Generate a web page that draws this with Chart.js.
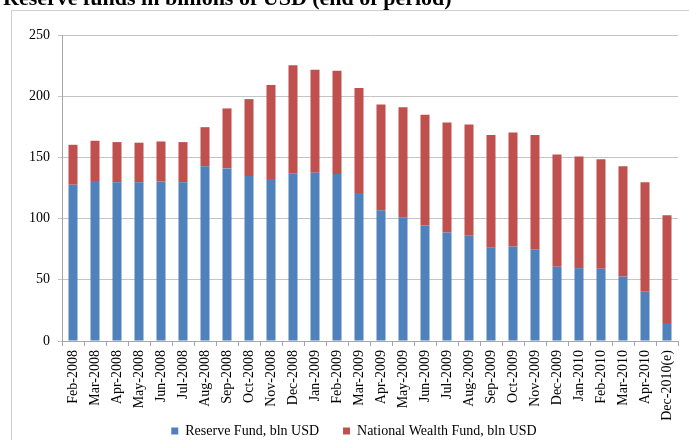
<!DOCTYPE html>
<html>
<head>
<meta charset="utf-8">
<script src="https://cdn.jsdelivr.net/npm/chart.js@4/dist/chart.umd.min.js"></script>
<style>
html,body{margin:0;padding:0;background:#fff;overflow:hidden;}
#wrap{position:relative;width:689px;height:440px;overflow:hidden;}
#frame{position:absolute;left:11px;top:10px;width:720px;height:460px;border:1px solid #cfcfcf;box-sizing:border-box;}
#title{position:absolute;left:3px;top:-13px;font:bold 22px "Liberation Serif",serif;line-height:22px;white-space:nowrap;color:#000;}
canvas{position:absolute;left:0;top:0;}
</style>
</head>
<body>
<div id="wrap">
<div id="frame"></div>
<canvas id="c" width="689" height="440"></canvas>
<div id="title">Reserve funds in billions of USD (end of period)</div>
</div>
<script>
const categories = ["Feb-2008","Mar-2008","Apr-2008","May-2008","Jun-2008","Jul-2008","Aug-2008","Sep-2008","Oct-2008","Nov-2008","Dec-2008","Jan-2009","Feb-2009","Mar-2009","Apr-2009","May-2009","Jun-2009","Jul-2009","Aug-2009","Sep-2009","Oct-2009","Nov-2009","Dec-2009","Jan-2010","Feb-2010","Mar-2010","Apr-2010","Dec-2010(e)"];
const reserveFund = [127.7,130.7,129.6,129.6,130.2,129.6,142.7,141.0,134.8,132.3,137.0,137.5,136.4,120.9,106.8,101.1,94.3,88.6,85.9,76.1,77.2,75.0,60.6,59.5,59.0,52.7,40.2,14.7];
const nationalWealthFund = [32.6,32.9,32.9,32.4,32.8,32.9,32.0,49.0,62.8,76.9,88.3,84.2,84.3,85.9,86.4,89.9,90.5,89.9,91.0,92.1,93.2,93.2,91.8,91.3,89.4,90.0,89.4,88.0];
const yTicks = [0,50,100,150,200,250];

const serif = '"Liberation Serif", "Times New Roman", serif';

const extendLabelAreas = {
  id: 'extendLabelAreas',
  afterLayout(chart) {
    const s = chart.scales.x;
    s.bottom = s.top + 95;
    s.height = 95;
    const y = chart.scales.y;
    y.width = y.right;
    y.left = 0;
  }
};

new Chart(document.getElementById('c'), {
  type: 'bar',
  data: {
    labels: categories,
    datasets: [
      {label: 'Reserve Fund, bln USD', data: reserveFund, backgroundColor: '#4F81BD', barPercentage: 0.41, categoryPercentage: 1.0},
      {label: 'National Wealth Fund, bln USD', data: nationalWealthFund, backgroundColor: '#C0504D', barPercentage: 0.41, categoryPercentage: 1.0}
    ]
  },
  plugins: [extendLabelAreas],
  options: {
    responsive: false,
    animation: false,
    devicePixelRatio: 1,
    layout: {padding: {left: 30, right: 11, top: 35, bottom: -8}},
    plugins: {
      legend: {
        position: 'bottom',
        labels: {boxWidth: 7, boxHeight: 7, padding: 24, color: '#000', font: {family: serif, size: 14}}
      },
      tooltip: {enabled: false}
    },
    scales: {
      x: {
        stacked: true,
        offset: true,
        grid: {offset: true, drawOnChartArea: false, drawTicks: true, tickLength: 5, color: '#a6a6a6'},
        border: {color: '#a6a6a6'},
        ticks: {minRotation: 90, maxRotation: 90, autoSkip: false, color: '#000', padding: 4, font: {family: serif, size: 14}},
        afterFit: function(s){ s.height = 59; }
      },
      y: {
        stacked: true,
        min: 0, max: 250,
        afterBuildTicks: function(s){ s.ticks = yTicks.map(v => ({value: v})); },
        grid: {color: '#c4c4c4', tickLength: 4, lineWidth: 1},
        border: {color: '#a6a6a6'},
        ticks: {color: '#000', padding: 8, font: {family: serif, size: 14}},
        afterFit: function(s){ s.width = 32; }
      }
    }
  }
});
</script>
</body>
</html>
